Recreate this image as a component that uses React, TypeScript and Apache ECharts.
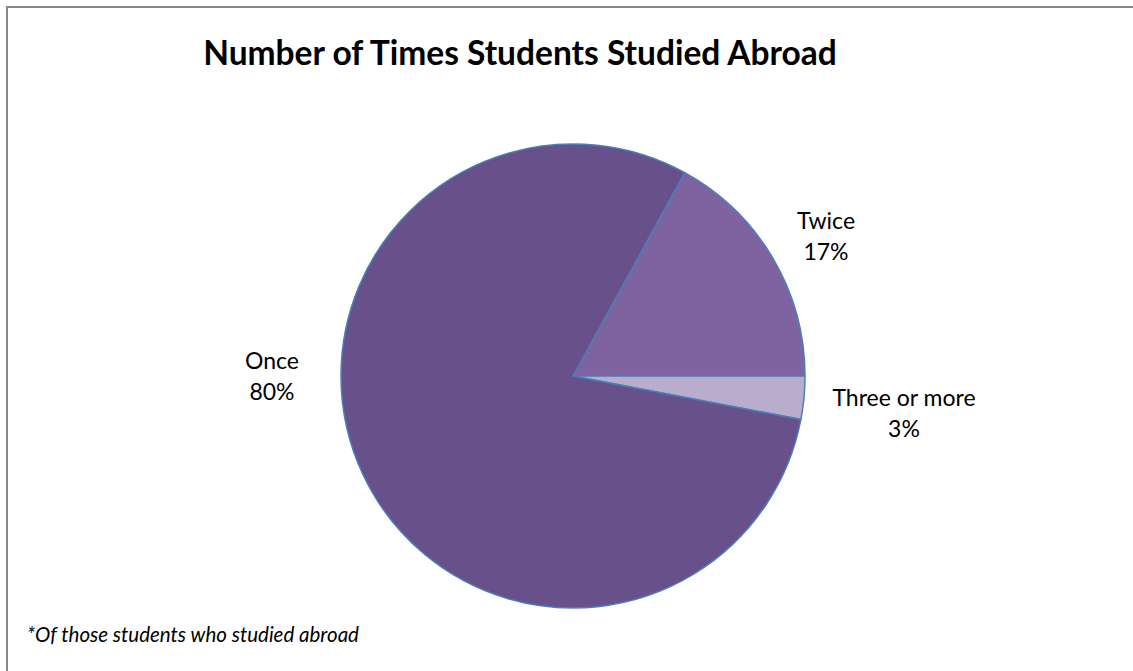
import React, { useEffect, useRef } from "react";
import * as echarts from "echarts";

const categories = ["Twice", "Three or more", "Once"];
const values = [17, 3, 80];
const colors = ["#7F63A1", "#B8ADCC", "#68508A"];
const titleText = "Number of Times Students Studied Abroad";
const footnote = "*Of those students who studied abroad";

const labelPos: Record<number, [number, number]> = {
  0: [826, 235],
  1: [904, 412],
  2: [272, 375],
};

export default function App() {
  const ref = useRef<HTMLDivElement>(null);
  useEffect(() => {
    if (!ref.current) return;
    const chart = echarts.init(ref.current, null, { renderer: "svg" });
    const font = "Lato, 'Open Sans', sans-serif";
    chart.setOption({
      animation: false,
      backgroundColor: "#ffffff",
      title: {
        text: titleText,
        left: 515,
        top: 30,
        textAlign: "center",
        textStyle: { fontFamily: font, fontWeight: "bold", fontSize: 33.5, color: "#000" },
      },
      graphic: [
        {
          type: "rect",
          shape: { x: 7, y: 7, width: 1200, height: 800 },
          style: { fill: "none", stroke: "#878787", lineWidth: 2 },
          silent: true,
        },
        {
          type: "text",
          left: 27,
          top: 624,
          style: {
            text: footnote,
            fontFamily: font,
            fontStyle: "italic",
            fontSize: 20.5,
            fill: "#000",
          },
        },
      ],
      series: [
        {
          type: "pie",
          center: [573, 376],
          radius: 232,
          startAngle: 61.2,
          clockwise: true,
          data: categories.map((c, i) => ({
            name: c,
            value: values[i],
            itemStyle: { color: colors[i] },
          })),
          itemStyle: { borderColor: "#4A7EBB", borderWidth: 1.5 },
          label: {
            show: true,
            position: "outside",
            formatter: "{b}\n{d}%",
            fontFamily: font,
            fontSize: 23,
            lineHeight: 31,
            color: "#000",
            align: "center",
          },
          labelLine: { show: false },
          labelLayout: (p: any) => {
            const pos = labelPos[p.dataIndex];
            return { x: pos[0], y: pos[1], align: "center", verticalAlign: "middle" };
          },
          emphasis: { disabled: true },
        },
      ],
    });
    return () => chart.dispose();
  }, []);
  return (
    <div
      ref={ref}
      style={{ position: "fixed", left: 0, top: 0, width: 1133, height: 671 }}
    />
  );
}
